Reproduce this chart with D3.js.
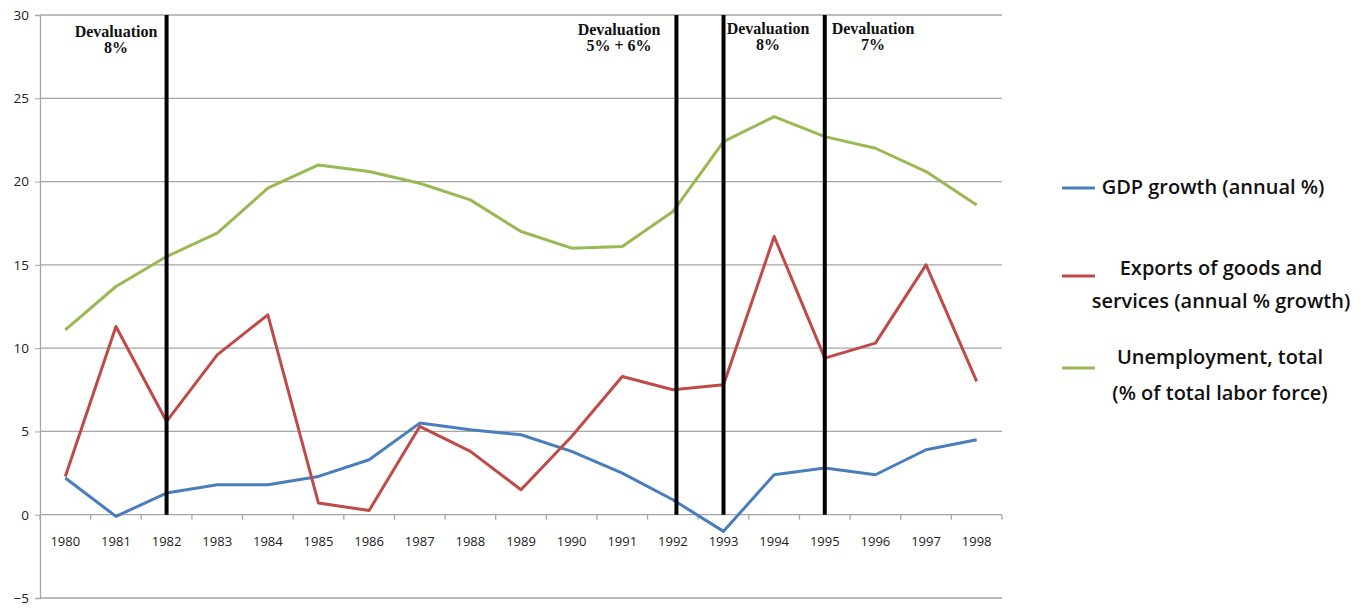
<!DOCTYPE html>
<html><head><meta charset="utf-8">
<script src="https://cdn.jsdelivr.net/npm/d3@7"></script>
<style>body{margin:0;background:#fff}svg{display:block}</style>
</head><body>
<svg id="c" width="1368" height="608"></svg>
<script>
const years = ["1980","1981","1982","1983","1984","1985","1986","1987","1988","1989","1990","1991","1992","1993","1994","1995","1996","1997","1998"];
const gdp = [2.2,-0.1,1.3,1.8,1.8,2.3,3.3,5.5,5.1,4.8,3.8,2.5,0.9,-1.0,2.4,2.8,2.4,3.9,4.5];
const exportsG = [2.3,11.3,5.6,9.6,12.0,0.7,0.25,5.3,3.8,1.5,4.7,8.3,7.5,7.8,16.7,9.4,10.3,15.0,8.0];
const unemp = [11.1,13.7,15.5,16.9,19.6,21.0,20.6,19.9,18.9,17.0,16.0,16.1,18.2,22.4,23.9,22.7,22.0,20.6,18.6];
const yTicks = [-5,0,5,10,15,20,25,30];
const devalIndex = [2, 12.07, 13, 15];
const devalLabels = [["Devaluation","8%"],["Devaluation","5% + 6%"],["Devaluation","8%"],["Devaluation","7%"]];
const seriesNames = [["GDP growth (annual %)"],["Exports of goods and","services (annual % growth)"],["Unemployment, total","(% of total labor force)"]];
const colors = ["#4a7ebb","#be4b48","#98b954"];

const svg = d3.select("#c");
const L = 40, R = 1002, T = 15, B = 598;
const x = d3.scaleBand().domain(years).range([L, R]);
const xi = i => L + (i + 0.5) * x.step();
const y = d3.scaleLinear().domain([-5, 30]).range([B, T]);

// gridlines
svg.append("g").selectAll("line").data(yTicks).join("line")
  .attr("x1", L).attr("x2", R).attr("y1", d => y(d)).attr("y2", d => y(d))
  .attr("stroke", "#a6a6a6").attr("stroke-width", 1.3);

// y axis
const ya = svg.append("g").attr("transform", `translate(${L},0)`)
  .call(d3.axisLeft(y).tickValues(yTicks).tickSize(5).tickPadding(6));
ya.select(".domain").attr("stroke", "#a6a6a6").attr("stroke-width", 1.3);
ya.selectAll(".tick line").attr("stroke", "#a6a6a6");
ya.selectAll("text").attr("font-family", "Open Sans, sans-serif").attr("font-size", 13.5).attr("fill", "#222");

// x axis ticks at band boundaries along 0 line
const bounds = d3.range(years.length + 1).map(i => L + i * x.step());
svg.append("g").selectAll("line").data(bounds).join("line")
  .attr("x1", d => d).attr("x2", d => d).attr("y1", y(0)).attr("y2", y(0) + 5)
  .attr("stroke", "#a6a6a6").attr("stroke-width", 1.3);
svg.append("g").selectAll("text").data(years).join("text")
  .attr("x", d => x(d) + x.bandwidth() / 2).attr("y", y(0) + 31)
  .attr("text-anchor", "middle").attr("font-family", "Open Sans, sans-serif")
  .attr("font-size", 13).attr("fill", "#222").text(d => d);

// series lines
const line = d3.line().x((d, i) => xi(i)).y(d => y(d));
[gdp, exportsG, unemp].forEach((s, k) => {
  svg.append("path").datum(s).attr("d", line).attr("fill", "none")
    .attr("stroke", colors[k]).attr("stroke-width", 3).attr("stroke-linejoin", "round");
});

// devaluation lines
svg.append("g").selectAll("line").data(devalIndex).join("line")
  .attr("x1", d => xi(d)).attr("x2", d => xi(d)).attr("y1", T).attr("y2", y(0))
  .attr("stroke", "#000").attr("stroke-width", 4);

// devaluation labels
const offs = [[116,37],[619,35],[768,34],[873,34]];
svg.append("g").selectAll("text").data(devalLabels).join("text")
  .attr("text-anchor", "middle").attr("font-family", "Liberation Serif, Times New Roman, serif")
  .attr("font-weight", "bold").attr("font-size", 16).attr("fill", "#111")
  .each(function(d, i) {
    const t = d3.select(this);
    d.forEach((ln, j) => t.append("tspan").attr("x", offs[i][0]).attr("y", offs[i][1] + j * 16).text(ln));
  });

// legend
const lg = svg.append("g");
const legY = [188, 276, 368];
const legText = [[187],[268,301],[357,393]];
const legCx = [1213, 1221, 1220];
seriesNames.forEach((lines, k) => {
  lg.append("line").attr("x1", 1062).attr("x2", 1095).attr("y1", legY[k]).attr("y2", legY[k])
    .attr("stroke", colors[k]).attr("stroke-width", 3);
  lines.forEach((t, j) => {
    lg.append("text").attr("x", legCx[k]).attr("y", legText[k][j] + 7)
      .attr("text-anchor", "middle").attr("font-family", "Open Sans, sans-serif")
      .attr("font-weight", 600).attr("font-size", 20).attr("fill", "#111").text(t);
  });
});
</script>
</body></html>
